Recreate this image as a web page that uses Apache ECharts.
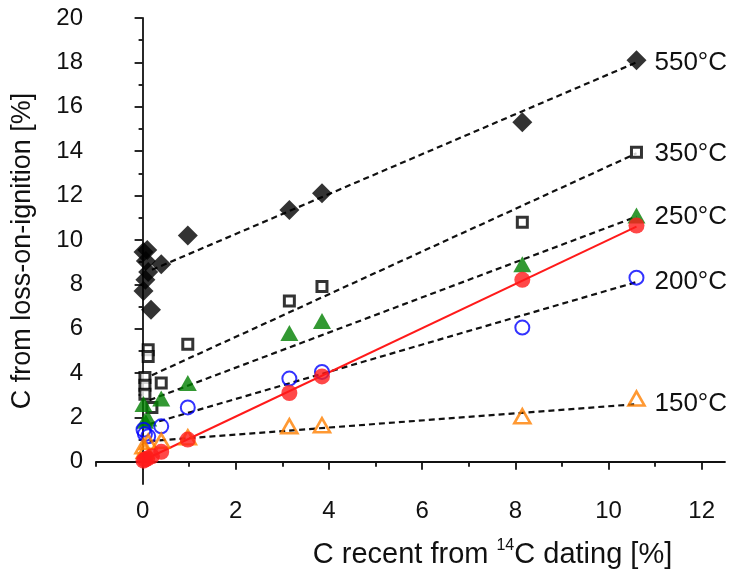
<!DOCTYPE html>
<html>
<head>
<meta charset="utf-8">
<script src="https://cdn.jsdelivr.net/npm/echarts@6/dist/echarts.min.js"></script>
<style>html,body{margin:0;padding:0;background:#fff}#c{width:740px;height:577px}</style>
</head>
<body>
<div id="c"></div>
<script>
// ---- data ----
const xMajorTicks = [0, 2, 4, 6, 8, 10, 12];
const xMinorTicks = [-1, 1, 3, 5, 7, 9, 11];
const yMajorTicks = [0, 2, 4, 6, 8, 10, 12, 14, 16, 18, 20];
const yMinorTicks = [1, 3, 5, 7, 9, 11, 13, 15, 17, 19];

const pts550 = [[0.02, 9.45], [0.1, 9.55], [0.07, 9.05], [0.12, 8.55], [0.06, 8.2], [0.02, 7.7], [0.18, 6.85], [0.4, 8.9], [0.97, 10.2], [3.15, 11.35], [3.85, 12.1], [8.15, 15.3], [10.6, 18.1]];
const pts350 = [[0.12, 5.05], [0.12, 4.75], [0.05, 3.8], [0.05, 3.45], [0.05, 3.05], [0.2, 2.45], [0.4, 3.55], [0.97, 5.3], [3.15, 7.25], [3.85, 7.9], [8.15, 10.8], [10.6, 13.95]];
const pts250 = [[0.02, 2.6], [0.05, 1.85], [0.12, 1.95], [0.4, 2.85], [0.97, 3.55], [3.15, 5.8], [3.85, 6.35], [8.15, 8.9], [10.6, 11.1]];
const pts200 = [[0.02, 1.45], [0.05, 1.25], [0.12, 1.15], [0.4, 1.6], [0.97, 2.45], [3.15, 3.75], [3.85, 4.05], [8.15, 6.05], [10.6, 8.3]];
const pts150 = [[0.02, 0.7], [0.05, 0.5], [0.12, 0.9], [0.4, 0.95], [0.97, 1.1], [3.15, 1.6], [3.85, 1.65], [8.15, 2.05], [10.6, 2.85]];
const ptsRed = [[0.02, 0.05], [0.05, 0.1], [0.1, 0.15], [0.2, 0.25], [0.4, 0.45], [0.97, 1.0], [3.15, 3.1], [3.85, 3.85], [8.15, 8.2], [10.6, 10.65]];

const fit550 = [[0.2, 8.65], [10.6, 18.0]];
const fit350 = [[0.2, 3.9], [10.6, 13.9]];
const fit250 = [[0.15, 2.78], [10.6, 11.05]];
const fit200 = [[0.15, 1.7], [10.6, 8.1]];
const fit150 = [[0.15, 0.93], [10.6, 2.6]];
const fitRed = [[0.02, 0.07], [10.6, 10.6]];

const labels = ['550°C', '350°C', '250°C', '200°C', '150°C'];

// ---- chart ----
const FONT = "'Liberation Sans', Arial, sans-serif";
const chart = echarts.init(document.getElementById('c'), null, {renderer: 'canvas'});

function dashed(data, label) {
  return {
    type: 'line', data: data, symbol: 'none', silent: true, z: 2,
    lineStyle: {color: '#111', width: 2.2, type: [6, 4]},
    endLabel: label ? {show: true, formatter: label, distance: 18, fontSize: 26, fontFamily: FONT, color: '#111'} : undefined
  };
}
const evenOnly = v => (Math.round(v) % 2 === 0 ? String(Math.round(v)) : '');

chart.setOption({
  animation: false,
  backgroundColor: '#fff',
  grid: {left: 96, right: 15, top: 18, bottom: 93, containLabel: false},
  xAxis: [
    {
      type: 'value', min: -1, max: 12.5, interval: 1, position: 'bottom', splitLine: {show: false},
      axisLine: {show: true, lineStyle: {color: '#111', width: 1.8}},
      axisTick: {show: true, inside: false, length: 8, customValues: xMajorTicks, lineStyle: {color: '#111', width: 1.8}},
      axisLabel: {show: true, formatter: evenOnly, margin: 15, fontSize: 24, fontFamily: FONT, color: '#111', showMaxLabel: false},
      name: '{a|C recent from }{s|14}{a|C dating [%]}',
      nameLocation: 'middle', nameGap: 54,
      nameTextStyle: {
        padding: [0, 0, 0, 164],
        rich: {
          a: {fontSize: 29, fontFamily: FONT, color: '#111', lineHeight: 34},
          s: {fontSize: 16, fontFamily: FONT, color: '#111', lineHeight: 18, verticalAlign: 'top'}
        }
      }
    },
    {
      type: 'value', min: -1, max: 12.5, position: 'bottom', splitLine: {show: false},
      axisLine: {show: false},
      axisTick: {show: true, inside: false, length: 5, customValues: xMinorTicks, lineStyle: {color: '#111', width: 1.8}},
      axisLabel: {show: false}
    }
  ],
  yAxis: [
    {
      type: 'value', min: -1, max: 20, interval: 1, position: 'left', splitLine: {show: false},
      axisLine: {show: true, lineStyle: {color: '#111', width: 1.8}},
      axisTick: {show: true, inside: false, length: 8, customValues: yMajorTicks, lineStyle: {color: '#111', width: 1.8}},
      axisLabel: {show: true, formatter: evenOnly, margin: 13, fontSize: 24, fontFamily: FONT, color: '#111'},
      name: 'C from loss-on-ignition [%]',
      nameLocation: 'middle', nameGap: 60,
      nameTextStyle: {fontSize: 27, fontFamily: FONT, color: '#111'}
    },
    {
      type: 'value', min: -1, max: 20, position: 'left', splitLine: {show: false},
      axisLine: {show: false},
      axisTick: {show: true, inside: false, length: 4, customValues: yMinorTicks, lineStyle: {color: '#111', width: 1.8}},
      axisLabel: {show: false}
    }
  ],
  series: [
    dashed(fit550, labels[0]),
    dashed(fit350, labels[1]),
    dashed(fit250, labels[2]),
    dashed(fit200, labels[3]),
    dashed(fit150, labels[4]),
    {type: 'line', data: fitRed, symbol: 'none', silent: true, z: 2, lineStyle: {color: '#ff1a1a', width: 2}},
    {type: 'scatter', data: pts550, symbol: 'diamond', symbolSize: 20, z: 3, itemStyle: {color: '#000'}},
    {type: 'scatter', data: pts350, symbol: 'rect', symbolSize: 10, z: 3, itemStyle: {color: '#fff', borderColor: '#000', borderWidth: 3}},
    {type: 'scatter', data: pts250, symbol: 'triangle', symbolSize: [18, 16], z: 3, itemStyle: {color: '#008000'}},
    {type: 'scatter', data: pts200, symbol: 'circle', symbolSize: 14, z: 3, itemStyle: {color: 'rgba(255,255,255,0)', borderColor: '#0000ff', borderWidth: 2}},
    {type: 'scatter', data: pts150, symbol: 'triangle', symbolSize: [16, 14], z: 3, itemStyle: {color: 'rgba(255,255,255,0)', borderColor: '#ff8000', borderWidth: 2.6}},
    {type: 'scatter', data: ptsRed, symbol: 'circle', symbolSize: 16, z: 4, itemStyle: {color: '#ff1a1a'}}
  ]
});
</script>
</body>
</html>
